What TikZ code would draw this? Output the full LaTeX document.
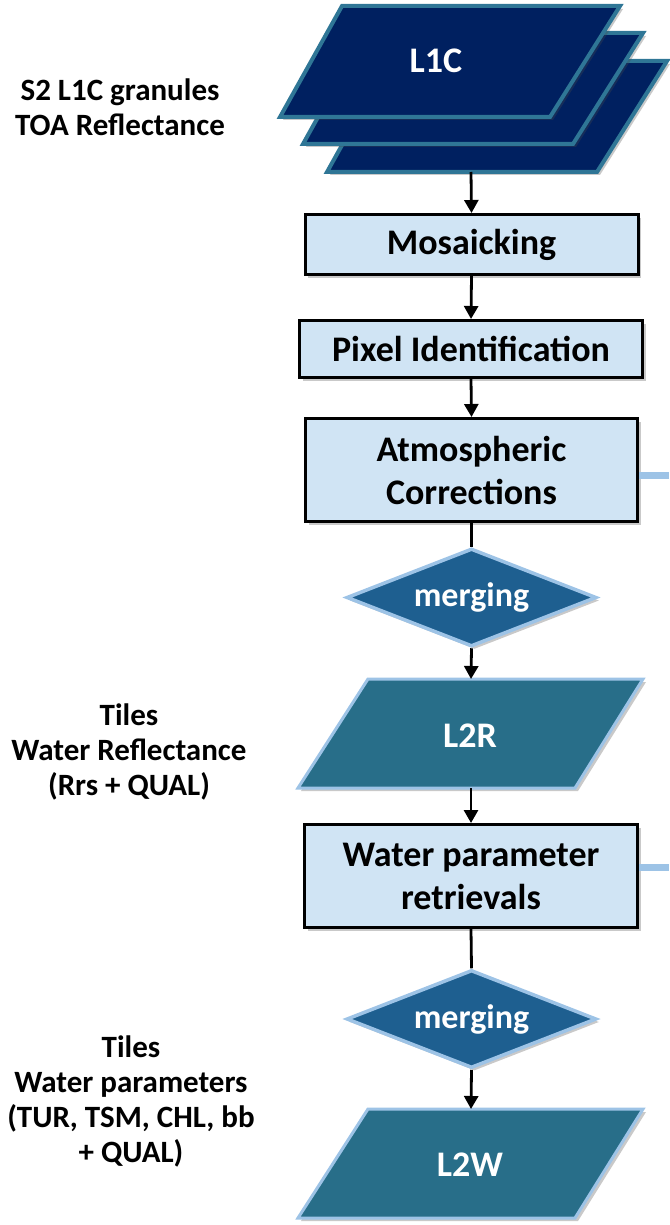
\documentclass[tikz,border=0pt]{standalone}
\usepackage{fontspec}
\setmainfont{Carlito}
\usetikzlibrary{shapes.geometric,arrows.meta,shadows}
\definecolor{navy}{HTML}{002060}
\definecolor{tealedge}{HTML}{2F7696}
\definecolor{boxfill}{HTML}{D0E4F4}
\definecolor{dmfill}{HTML}{1E5F90}
\definecolor{lightedge}{HTML}{9DC3E6}
\definecolor{lfill}{HTML}{286E89}
\tikzset{
  shad/.style={drop shadow={shadow xshift=3pt,shadow yshift=-3pt,opacity=.3,fill=black!70}},
  stepbox/.style={draw=black,line width=3pt,fill=boxfill,shad,align=center,inner sep=0pt,
     font=\bfseries\fontsize{36}{43}\selectfont},
  l1cshape/.style={draw=tealedge,line width=4pt,fill=navy,line join=miter,shad},
  lshape/.style={draw=lightedge,line width=3pt,fill=lfill,line join=miter,shad},
  merge/.style={diamond,aspect=2.6,draw=lightedge,line width=3.5pt,fill=dmfill,inner sep=0pt,
     minimum width=250pt,minimum height=98pt,text=white,shad,
     font=\bfseries\fontsize{34}{40}\selectfont},
  wtext/.style={text=white,font=\bfseries\fontsize{36}{42}\selectfont},
  side/.style={align=center,font=\bfseries\fontsize{31}{35}\selectfont},
  arr/.style={line width=2.8pt,-{Triangle[width=14pt,length=13pt]}},
  lin/.style={line width=2.8pt},
  outl/.style={lightedge,line width=7pt}
}
\begin{document}
\begin{tikzpicture}[x=1pt,y=-1pt]
\useasboundingbox (0,0) rectangle (669,1225);
% L1C stack
\draw[l1cshape] (389,61) -- (667,61) -- (597,172) -- (327,172) -- cycle;
\draw[l1cshape] (365,33) -- (643,33) -- (573,144) -- (303,144) -- cycle;
\draw[l1cshape] (342,6) -- (620,6) -- (550,117) -- (280,117) -- cycle;
\node[wtext] (l1c) at (436,61) {L1C};
\coordinate (l1cB) at (471,172);
\node[side] (lab1) at (120,107) {S2 L1C granules\\TOA Reflectance};
% boxes
\node[stepbox,minimum width=333pt,minimum height=60pt] (mos) at (471.5,244.5) {Mosaicking};
\node[stepbox,minimum width=343pt,minimum height=57pt] (pix) at (471,349) {Pixel Identification};
\node[stepbox,minimum width=332pt,minimum height=103pt] (atm) at (471.5,470) {Atmospheric\\Corrections};
\coordinate (atmR) at (669,475);
\draw[outl] (atm.east |- atmR) -- (atmR);
\node[merge] (m1) at (471.5,597.5) {merging};
% L2R
\draw[lshape] (368,679) -- (643,679) -- (575,788) -- (298,788) -- cycle;
\node[wtext] (l2r) at (470,736) {L2R};
\coordinate (l2rT) at (471,679);
\coordinate (l2rB) at (471,788);
\node[side] (lab2) at (129,752) {Tiles\\Water Reflectance\\(Rrs + QUAL)};
\node[stepbox,minimum width=333pt,minimum height=103pt] (wpr) at (471,876) {Water parameter\\retrievals};
\coordinate (wprR) at (669,867);
\draw[outl] (wpr.east |- wprR) -- (wprR);
\node[merge] (m2) at (471.5,1019) {merging};
% L2W
\draw[lshape] (368,1109) -- (643,1109) -- (575,1218) -- (298,1218) -- cycle;
\node[wtext] (l2w) at (470,1165) {L2W};
\coordinate (l2wT) at (471,1109);
\node[side] (lab3) at (131,1101) {Tiles\\Water parameters\\(TUR, TSM, CHL, bb\\+ QUAL)};
% connectors
\draw[arr] (l1cB) -- (mos.north);
\draw[arr] (mos.south) -- (pix.north);
\draw[arr] (pix.south) -- (atm.north);
\draw[lin] (atm.south) -- (m1.north);
\draw[arr] (m1.south) -- (l2rT);
\draw[arr] (l2rB) -- (wpr.north);
\draw[lin] (wpr.south) -- (m2.north);
\draw[arr] (m2.south) -- (l2wT);
\end{tikzpicture}
\end{document}
